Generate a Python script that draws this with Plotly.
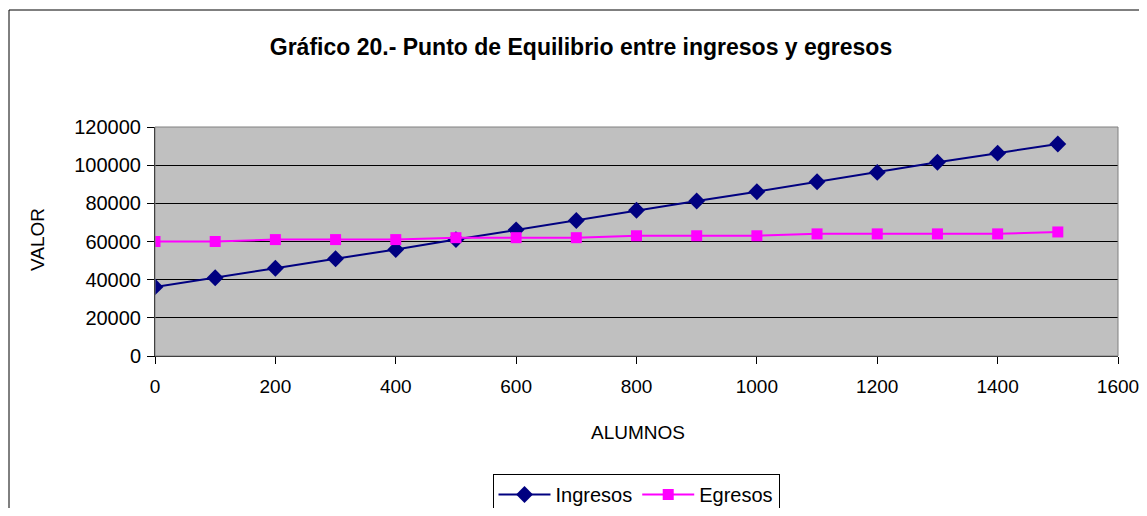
import plotly.graph_objects as go

alumnos = [0, 100, 200, 300, 400, 500, 600, 700, 800, 900, 1000, 1100, 1200, 1300, 1400, 1500]
ingresos = [36200, 41000, 46000, 51000, 55800, 61000, 66100, 71000, 76400, 81200, 86100, 91300, 96200, 101500, 106300, 111100]
egresos = [60000, 60000, 61000, 61000, 61000, 62000, 62000, 62000, 63000, 63000, 63000, 64000, 64000, 64000, 64000, 65000]
x_ticks = [0, 200, 400, 600, 800, 1000, 1200, 1400, 1600]
y_ticks = [0, 20000, 40000, 60000, 80000, 100000, 120000]

FONT = "Liberation Sans, Arial, sans-serif"

fig = go.Figure()
fig.add_trace(go.Scatter(
    x=alumnos, y=ingresos, name="Ingresos", mode="lines+markers",
    line=dict(color="#000080", width=2),
    marker=dict(symbol="diamond", size=13, color="#000080"),
))
fig.add_trace(go.Scatter(
    x=alumnos, y=egresos, name="Egresos", mode="lines+markers",
    line=dict(color="#FF00FF", width=2),
    marker=dict(symbol="square", size=11, color="#FF00FF"),
))

OFF = 8  # page body margin
W, H = 1147 - 2 * OFF, 516 - 2 * OFF
L = 155 - OFF
T = 127 - OFF
R = W - (1118 - OFF)
B = H - (356 - OFF)
pw, ph = W - L - R, H - T - B

def px_x(p):
    return (p - OFF - L) / pw

def px_y(p):
    return (H - B - (p - OFF)) / ph

fig.update_layout(
    width=W, height=H,
    margin=dict(l=L, r=R, t=T, b=B, pad=0, autoexpand=False),
    paper_bgcolor="white",
    plot_bgcolor="#C0C0C0",
    font=dict(family=FONT, size=19, color="black"),
    title=dict(
        text="<b>Gráfico 20.- Punto de Equilibrio entre ingresos y egresos</b>",
        x=(581 - OFF) / W, xref="container", xanchor="center",
        y=1 - (47 - OFF) / H, yref="container", yanchor="middle",
        font=dict(family=FONT, size=23, color="black"),
    ),
    xaxis=dict(
        range=[0, 1600], tickmode="array", tickvals=x_ticks,
        ticktext=[str(v) for v in x_ticks],
        showgrid=False, zeroline=False,
        showline=True, linecolor="black", linewidth=1,
        ticks="outside", ticklen=7, tickcolor="black",
        tickfont=dict(size=19), automargin=False,
        ticklabeloverflow="allow", ticklabelstandoff=6,
    ),
    yaxis=dict(
        range=[0, 120000], tickmode="array", tickvals=y_ticks,
        ticktext=[str(v) for v in y_ticks],
        showgrid=True, gridcolor="black", gridwidth=1,
        zeroline=False,
        showline=True, linecolor="black", linewidth=1,
        ticks="outside", ticklen=7, tickcolor="black",
        tickfont=dict(size=20), automargin=False,
        ticklabeloverflow="allow", ticklabelstandoff=2,
    ),
    showlegend=True,
    legend=dict(
        orientation="h", x=px_x(636), xanchor="center",
        y=px_y(474), yanchor="top",
        bordercolor="black", borderwidth=1, bgcolor="white",
        font=dict(size=20), itemwidth=52,
    ),
    annotations=[
        dict(text="ALUMNOS", xref="paper", yref="paper", x=px_x(638), y=px_y(432),
             showarrow=False, font=dict(size=19), xanchor="center", yanchor="middle"),
        dict(text="VALOR", xref="paper", yref="paper", x=px_x(37), y=px_y(240),
             showarrow=False, font=dict(size=19), textangle=-90,
             xanchor="center", yanchor="middle"),
    ],
    shapes=[
        dict(type="rect", xref="paper", yref="paper", x0=0, x1=1, y0=0, y1=1,
             line=dict(color="#808080", width=1), fillcolor="rgba(0,0,0,0)", layer="above"),
        dict(type="rect", xref="paper", yref="paper",
             x0=px_x(9), x1=px_x(1170), y0=px_y(530), y1=px_y(10),
             line=dict(color="black", width=1), fillcolor="rgba(0,0,0,0)"),
    ],
)

fig.write_html("out.html")
